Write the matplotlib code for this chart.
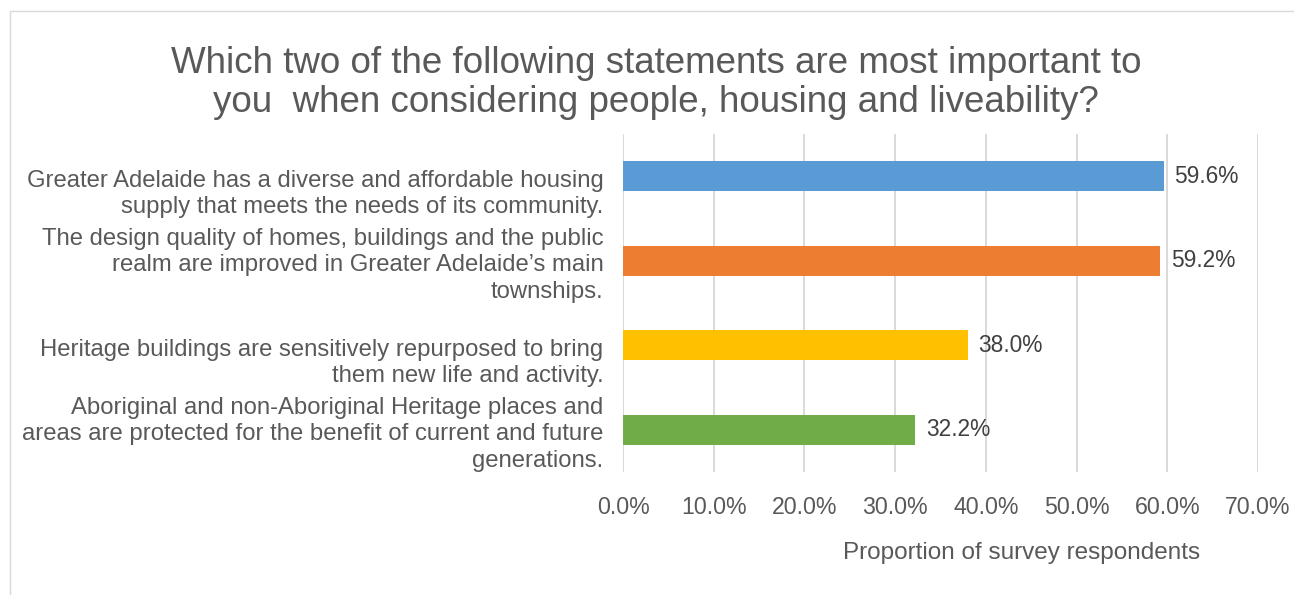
import matplotlib.pyplot as plt
from matplotlib.patches import Rectangle
from matplotlib.ticker import FuncFormatter

plt.rcParams['font.family'] = ['Liberation Sans', 'DejaVu Sans']

title_lines = [
    "Which two of the following statements are most important to",
    "you  when considering people, housing and liveability?",
]
statements = [
    "\nGreater Adelaide has a diverse and affordable housing\nsupply that meets the needs of its community.",
    "The design quality of homes, buildings and the public\nrealm are improved in Greater Adelaide\u2019s main\ntownships.",
    "\nHeritage buildings are sensitively repurposed to bring\nthem new life and activity.",
    "Aboriginal and non-Aboriginal Heritage places and\nareas are protected for the benefit of current and future\ngenerations.",
]
shares = [59.6, 59.2, 38.0, 32.2]
colors = ['#5b9bd5', '#ed7d31', '#ffc000', '#70ad47']
xticks = [0, 10, 20, 30, 40, 50, 60, 70]

text_c = '#595959'
grid_c = '#d9d9d9'
W, H = 1294, 595

fig = plt.figure(figsize=(W / 100, H / 100), dpi=100)
ax = fig.add_axes([623 / W, 1 - 472 / H, 635 / W, 338 / H])

ypos = list(range(len(shares)))
ax.barh(ypos, shares, height=0.355, color=colors, zorder=3)
for y, v in zip(ypos, shares):
    ax.text(v + 1.2, y, f"{v:.1f}%", va='center', ha='left',
            fontsize=16.4, color='#404040', zorder=4)

ax.set_ylim(len(shares) - 0.5, -0.5)
ax.set_yticks(ypos)
ax.set_yticklabels(statements, fontsize=17.2, color=text_c, linespacing=1.25,
                   ha='right')
ax.set_xlim(0, 70)
ax.set_xticks(xticks)
ax.xaxis.set_major_formatter(FuncFormatter(lambda v, p: f"{v:.1f}%"))
ax.tick_params(axis='x', labelsize=16.7, colors=text_c, length=0, pad=17)
ax.tick_params(axis='y', length=0, pad=14)
ax.grid(axis='x', color=grid_c, linewidth=1.4, zorder=0)
for s in ax.spines.values():
    s.set_visible(False)

fig.text(1022 / W, 1 - 553 / H, "Proportion of survey respondents",
         ha='center', va='center', fontsize=17.5, color=text_c)

for line, base in zip(title_lines, [73, 112]):
    fig.text(656 / W, 1 - base / H, line, ha='center', va='baseline',
             fontsize=26.5, color=text_c)

# chart frame
fig.patches.append(Rectangle((9.5 / W, -0.1), 1.2, 1.1 - 11 / H,
                             transform=fig.transFigure, fill=False,
                             edgecolor=grid_c, linewidth=1.0))

fig.savefig('out.png', dpi=100, facecolor='white')
